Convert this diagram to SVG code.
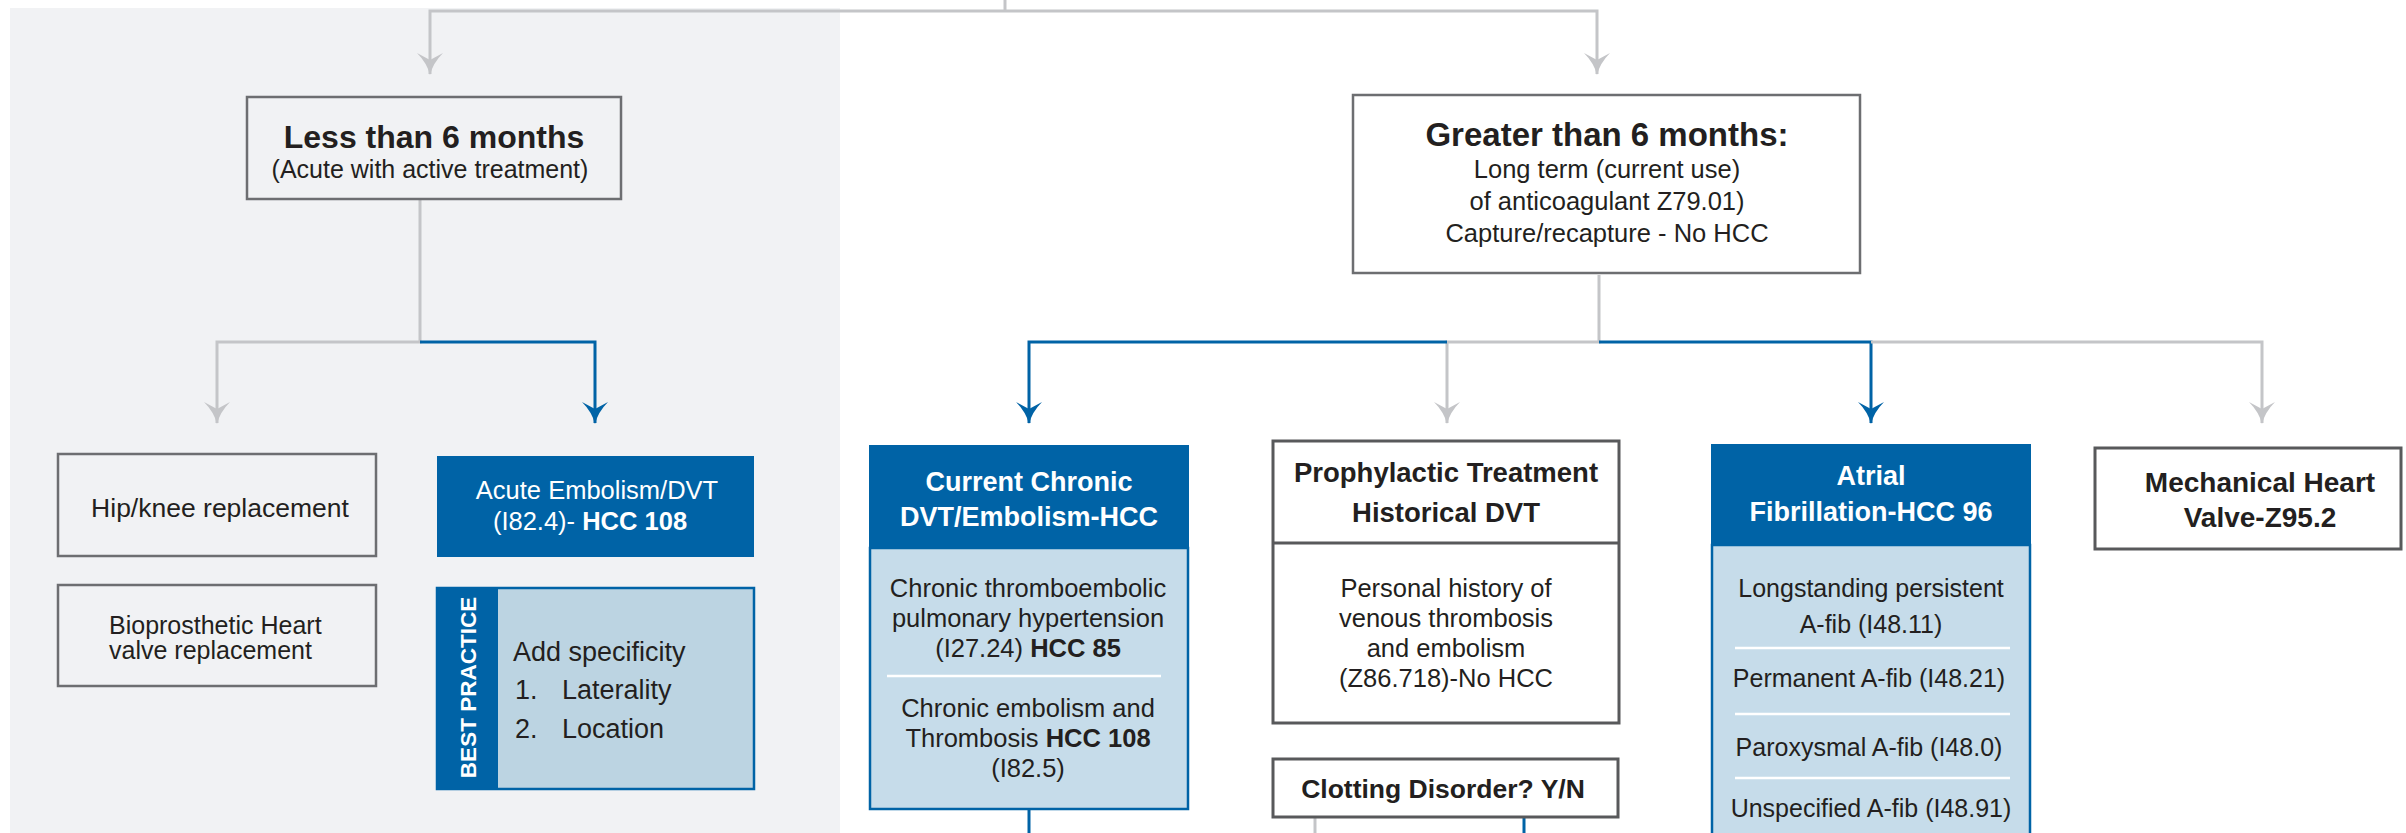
<svg xmlns="http://www.w3.org/2000/svg" width="2406" height="833" viewBox="0 0 2406 833">
<style>
text{font-family:"Liberation Sans",Arial,sans-serif;fill:#231f20}
.b{font-weight:bold}
.w{fill:#fff}
.m{text-anchor:middle}
.box{fill:#fff;stroke:#6d6e71;stroke-width:2.5}
.boxg{fill:none;stroke:#6d6e71;stroke-width:2.5}
.boxd{fill:#fff;stroke:#58595b;stroke-width:3}
.hdr{fill:#0063a6}
.body{fill:#c6dcea;stroke:#0063a6;stroke-width:2.5}
.sep{stroke:#fff;stroke-width:2.5}
.cg{fill:none;stroke:#c4c5c8;stroke-width:3}
.cb{fill:none;stroke:#0063a6;stroke-width:3}
.ag{marker-end:url(#ag)}
.ab{marker-end:url(#ab)}
.s25{font-size:25px}
.s26{font-size:25.5px}
.s27{font-size:27px}
</style>
<defs>
<marker id="ag" viewBox="0 0 22 26" refX="21" refY="13" markerWidth="22" markerHeight="26" orient="auto" markerUnits="userSpaceOnUse">
<path d="M22,13 Q10,10 0,0 L7,13 L0,26 Q10,16 22,13 Z" fill="#c4c5c8"/>
</marker>
<marker id="ab" viewBox="0 0 22 26" refX="21" refY="13" markerWidth="22" markerHeight="26" orient="auto" markerUnits="userSpaceOnUse">
<path d="M22,13 Q10,10 0,0 L7,13 L0,26 Q10,16 22,13 Z" fill="#0063a6"/>
</marker>
</defs>
<rect id="panel" x="10" y="8" width="830" height="825" fill="#f1f2f4"/>

<g id="connectors">
<path class="cg" d="M1005,0 V11"/>
<path class="cg ag" d="M1005,11 H430 V74"/>
<path class="cg ag" d="M1005,11 H1597 V74"/>
<path class="cg ag" d="M420,199 V342 H217 V423"/>
<path class="cb ab" d="M420,342 H595 V423"/>
<path class="cg ag" d="M1599,275 V342 H1447 V423"/>
<path class="cb ab" d="M1447,342 H1029 V423"/>
<path class="cb ab" d="M1599,342 H1871 V423"/>
<path class="cg ag" d="M1871,342 H2262 V423"/>
<path class="cb" d="M1029,809 V833"/>
<path class="cg" d="M1315,817 V833"/>
<path class="cb" d="M1524,817 V833"/>
</g>

<g id="less">
<rect class="boxg" x="247" y="97" width="374" height="102"/>
<text class="b m" x="434" y="148" font-size="32">Less than 6 months</text>
<text class="m s25" x="430" y="178">(Acute with active treatment)</text>
</g>

<g id="greater">
<rect class="box" x="1353" y="95" width="507" height="178"/>
<text class="b m" x="1607" y="146" font-size="33">Greater than 6 months:</text>
<text class="m s26" x="1607" y="178">Long term (current use)</text>
<text class="m s26" x="1607" y="210">of anticoagulant Z79.01)</text>
<text class="m s26" x="1607" y="242">Capture/recapture - No HCC</text>
</g>

<g id="hip">
<rect class="boxg" x="58" y="454" width="318" height="102"/>
<text class="m" x="220" y="517" font-size="26.5">Hip/knee replacement</text>
</g>

<g id="bio">
<rect class="boxg" x="58" y="585" width="318" height="101"/>
<text class="s25" x="109" y="634">Bioprosthetic Heart</text>
<text class="s25" x="109" y="659">valve replacement</text>
</g>

<g id="acute">
<rect class="hdr" x="437" y="456" width="317" height="101"/>
<text class="w m s26" x="597" y="499">Acute Embolism/DVT</text>
<text class="w m s26" x="590" y="530">(I82.4)- <tspan class="b w">HCC 108</tspan></text>
</g>

<g id="best-practice">
<rect x="437" y="588" width="317" height="201" fill="#bcd4e2" stroke="#0063a6" stroke-width="2.5"/>
<rect class="hdr" x="437" y="588" width="61" height="201"/>
<text class="b w m" transform="translate(476,687.5) rotate(-90)" font-size="22.5">BEST PRACTICE</text>
<text class="s27" x="513" y="661">Add specificity</text>
<text class="s27" x="515" y="699">1.</text>
<text class="s27" x="562" y="699">Laterality</text>
<text class="s27" x="515" y="738">2.</text>
<text class="s27" x="562" y="738">Location</text>
</g>

<g id="chronic">
<rect class="body" x="870" y="548" width="318" height="261"/>
<rect class="hdr" x="869" y="445" width="320" height="103"/>
<text class="b w m s27" x="1029" y="491">Current Chronic</text>
<text class="b w m s27" x="1029" y="526">DVT/Embolism-HCC</text>
<text class="m s26" x="1028" y="597">Chronic thromboembolic</text>
<text class="m s26" x="1028" y="627">pulmonary hypertension</text>
<text class="m s26" x="1028" y="657">(I27.24) <tspan class="b">HCC 85</tspan></text>
<line class="sep" x1="887" y1="676" x2="1161" y2="676"/>
<text class="m s26" x="1028" y="717">Chronic embolism and</text>
<text class="m s26" x="1028" y="747">Thrombosis <tspan class="b">HCC 108</tspan></text>
<text class="m s26" x="1028" y="777">(I82.5)</text>
</g>

<g id="prophylactic">
<rect class="boxd" x="1273" y="441" width="346" height="282"/>
<line x1="1273" y1="543" x2="1619" y2="543" stroke="#58595b" stroke-width="3"/>
<text class="b m" x="1446" y="482" font-size="27.5">Prophylactic Treatment</text>
<text class="b m" x="1446" y="522" font-size="27.5">Historical DVT</text>
<text class="m s26" x="1446" y="597">Personal history of</text>
<text class="m s26" x="1446" y="627">venous thrombosis</text>
<text class="m s26" x="1446" y="657">and embolism</text>
<text class="m s26" x="1446" y="687">(Z86.718)-No HCC</text>
</g>

<g id="clotting">
<rect class="boxd" x="1273" y="759" width="345" height="58"/>
<text class="b m" x="1443" y="798" font-size="26.5">Clotting Disorder? Y/N</text>
</g>

<g id="atrial">
<rect class="body" x="1712" y="545" width="318" height="300"/>
<rect class="hdr" x="1711" y="444" width="320" height="101"/>
<text class="b w m s27" x="1871" y="485">Atrial</text>
<text class="b w m s27" x="1871" y="521">Fibrillation-HCC 96</text>
<text class="m s25" x="1871" y="597">Longstanding persistent</text>
<text class="m s25" x="1871" y="633">A-fib (I48.11)</text>
<line class="sep" x1="1735" y1="648" x2="2010" y2="648"/>
<text class="m s25" x="1869" y="687">Permanent A-fib (I48.21)</text>
<line class="sep" x1="1735" y1="714" x2="2010" y2="714"/>
<text class="m s25" x="1869" y="756">Paroxysmal A-fib (I48.0)</text>
<line class="sep" x1="1735" y1="778" x2="2010" y2="778"/>
<text class="m s25" x="1871" y="817">Unspecified A-fib (I48.91)</text>
</g>

<g id="mechanical">
<rect class="boxd" x="2095" y="448" width="306" height="101"/>
<text class="b m" x="2260" y="492" font-size="28">Mechanical Heart</text>
<text class="b m" x="2260" y="527" font-size="28">Valve-Z95.2</text>
</g>
</svg>
